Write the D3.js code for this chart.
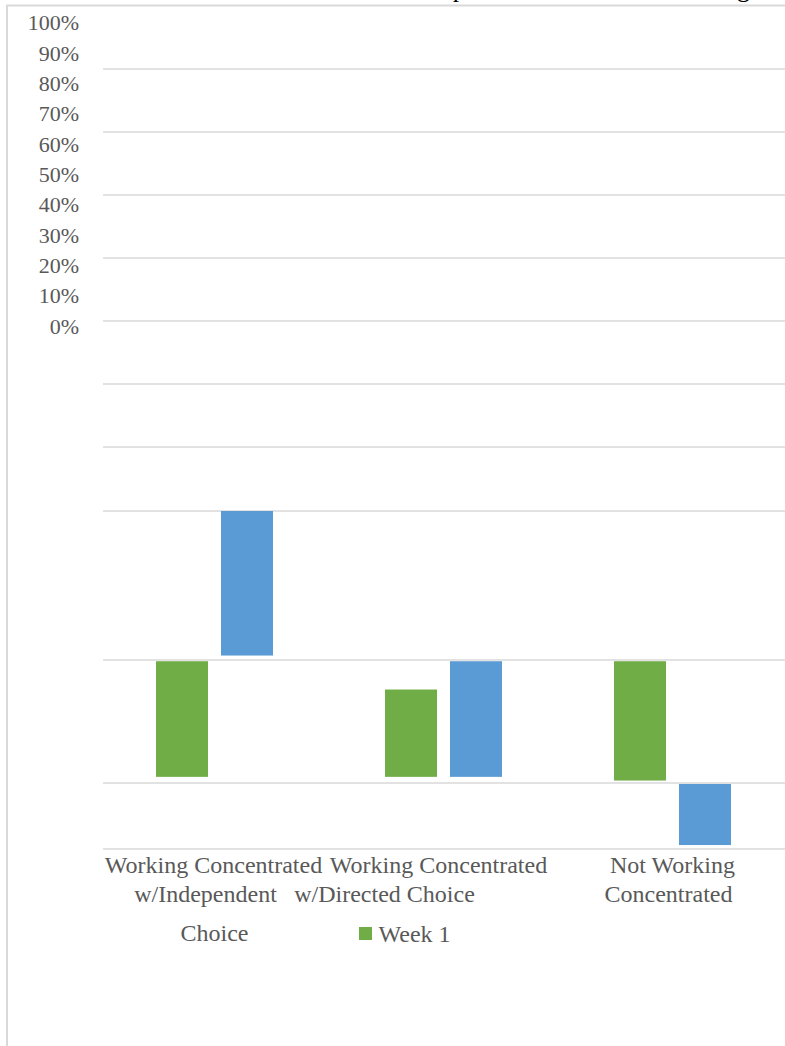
<!DOCTYPE html>
<html>
<head>
<meta charset="utf-8">
<script src="https://cdn.jsdelivr.net/npm/d3@7"></script>
<style>
  html, body { margin: 0; padding: 0; background: #ffffff; }
  svg { display: block; }
  text { font-family: "Liberation Serif", "Times New Roman", serif; }
</style>
</head>
<body>
<svg id="chart" width="785" height="1046"></svg>
<script>
// ---- data ----
const categories = [
  "Working Concentrated w/Independent Choice",
  "Working Concentrated w/Directed Choice",
  "Not Working Concentrated"
];
const seriesNames = ["Week 1", "Week 2"];
// floating bar ranges (share of 100%) as they appear in the picture
const week1Low  = [0.105, 0.105, 0.102];
const week1High = [0.199, 0.176, 0.199];
const week2Low  = [0.203, 0.105, 0.006];
const week2High = [0.300, 0.199, 0.0985];
const tickValues = [0, 0.1, 0.2, 0.3, 0.4, 0.5, 0.6, 0.7, 0.8, 0.9, 1.0];
const tickLabels = ["0%", "10%", "20%", "30%", "40%", "50%", "60%", "70%", "80%", "90%", "100%"];
const categoryLines = [
  ["Working Concentrated", "w/Independent", "Choice"],
  ["Working Concentrated", "w/Directed Choice"],
  ["Not Working", "Concentrated"]
];
const titleText = "Week 1 and Week 2 Comparison of Students Working";

// ---- layout / style ----
const colors = { "Week 1": "#70ad47", "Week 2": "#5b9bd5" };
const textColor = "#595959";
const gridColor = "#d9d9d9";
const gridPixels = [849, 783, 660, 511, 447, 384, 321, 258, 195, 132, 69];
const lineY = [865, 894, 933];
const lineDx = [[-1, -9, 0], [-5, -59], [0, -4]];

const svg = d3.select("#chart");
svg.append("rect").attr("width", 785).attr("height", 1046).attr("fill", "#ffffff");

// chart border (top and left visible)
svg.append("line").attr("x1", 6).attr("x2", 785).attr("y1", 5.5).attr("y2", 5.5)
  .attr("stroke", gridColor).attr("stroke-width", 2);
svg.append("line").attr("x1", 7).attr("x2", 7).attr("y1", 5).attr("y2", 1046)
  .attr("stroke", gridColor).attr("stroke-width", 2);

// title (mostly above the visible area)
svg.append("text").attr("x", 750).attr("y", -3.5).attr("text-anchor", "end")
  .attr("font-size", 26).attr("fill", "#000").text(titleText);

// scales
const x = d3.scaleBand().domain(categories).range([100, 787]).paddingInner(0).paddingOuter(0);
const xs = d3.scaleBand().domain(seriesNames).range([0, x.bandwidth()])
  .paddingInner(0.2).paddingOuter(0.862);
const y = d3.scaleLinear().domain(tickValues).range(gridPixels);
const yLabel = d3.scaleLinear().domain([0, 1]).range([326, 22.7]);

// gridlines
svg.append("g").selectAll("line").data(tickValues).join("line")
  .attr("x1", 103).attr("x2", 785)
  .attr("y1", d => y(d)).attr("y2", d => y(d))
  .attr("stroke", gridColor).attr("stroke-width", 1.5);

// y tick labels
svg.append("g").selectAll("text").data(tickValues).join("text")
  .attr("x", 79).attr("y", d => yLabel(d)).attr("dy", "0.35em")
  .attr("text-anchor", "end").attr("font-size", 22).attr("fill", textColor)
  .text((d, i) => tickLabels[i]);

// bars
const barData = [];
categories.forEach((c, i) => {
  barData.push({ cat: c, s: "Week 1", lo: week1Low[i], hi: week1High[i] });
  barData.push({ cat: c, s: "Week 2", lo: week2Low[i], hi: week2High[i] });
});
svg.append("g").selectAll("rect").data(barData).join("rect")
  .attr("x", d => x(d.cat) + xs(d.s))
  .attr("width", xs.bandwidth())
  .attr("y", d => y(d.hi))
  .attr("height", d => y(d.lo) - y(d.hi))
  .attr("fill", d => colors[d.s]);

// category labels
categories.forEach((c, i) => {
  categoryLines[i].forEach((line, j) => {
    svg.append("text")
      .attr("x", x(c) + x.bandwidth() / 2 + lineDx[i][j])
      .attr("y", lineY[j]).attr("dy", "0.35em")
      .attr("text-anchor", "middle").attr("font-size", 24).attr("fill", textColor)
      .text(line);
  });
});

// legend (only Week 1 visible)
const lg = svg.append("g").attr("transform", "translate(359,927)");
lg.append("rect").attr("width", 13).attr("height", 13).attr("fill", colors["Week 1"]);
lg.append("text").attr("x", 19.5).attr("y", 6.5).attr("dy", "0.35em")
  .attr("font-size", 24).attr("fill", textColor).text(seriesNames[0]);
</script>
</body>
</html>
